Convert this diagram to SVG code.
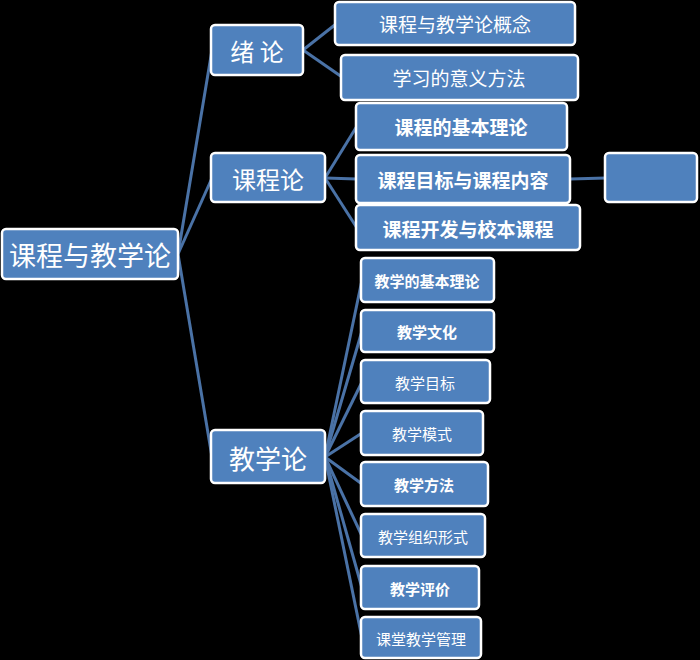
<svg xmlns="http://www.w3.org/2000/svg" width="700" height="660" viewBox="0 0 700 660">
<style>
.n rect{fill:#4F81BD;stroke:#fff;stroke-width:2.5}
.n text{fill:#fff;font-family:"Noto Sans CJK SC","Liberation Sans",sans-serif;text-anchor:middle;dominant-baseline:central}
#c line{stroke:#4A72A6;stroke-width:3}
.b{font-weight:bold}
</style>
<rect width="700" height="660" fill="#000"/>
<g id="c">
<line x1="178" y1="254" x2="212" y2="50"/>
<line x1="178" y1="254" x2="212" y2="178"/>
<line x1="178" y1="254" x2="212" y2="457"/>
<line x1="303" y1="50" x2="336" y2="24"/>
<line x1="303" y1="50" x2="342" y2="77"/>
<line x1="325" y1="178" x2="357" y2="126"/>
<line x1="325" y1="178" x2="357" y2="179"/>
<line x1="325" y1="178" x2="357" y2="228"/>
<line x1="570" y1="179" x2="606" y2="178"/>
<line x1="325" y1="457" x2="362" y2="280"/>
<line x1="325" y1="457" x2="362" y2="331"/>
<line x1="325" y1="457" x2="362" y2="382"/>
<line x1="325" y1="457" x2="362" y2="433"/>
<line x1="325" y1="457" x2="362" y2="484"/>
<line x1="325" y1="457" x2="362" y2="536"/>
<line x1="325" y1="457" x2="362" y2="588"/>
<line x1="325" y1="457" x2="362" y2="638"/>
</g>
<g id="root" class="n"><rect x="2" y="229" width="176" height="50" rx="4"/><text x="90" y="254" font-size="27">课程与教学论</text></g>
<g id="xulun" class="n"><rect x="211" y="25" width="92" height="50" rx="4"/><text x="257" y="50" font-size="24">绪 论</text></g>
<g id="kechenglun" class="n"><rect x="211" y="153" width="114" height="49" rx="4"/><text x="268" y="178" font-size="24">课程论</text></g>
<g id="jiaoxuelun" class="n"><rect x="211" y="430" width="114" height="53" rx="4"/><text x="268" y="457" font-size="26">教学论</text></g>
<g id="n1" class="n"><rect x="335" y="2" width="240" height="43" rx="4"/><text x="455" y="23" font-size="19">课程与教学论概念</text></g>
<g id="n2" class="n"><rect x="341" y="55" width="237" height="45" rx="4"/><text x="459" y="77" font-size="19">学习的意义方法</text></g>
<g id="n3" class="n"><rect x="356" y="103" width="211" height="47" rx="4"/><text x="461" y="126" font-size="19" class="b">课程的基本理论</text></g>
<g id="n4" class="n"><rect x="356" y="155" width="214" height="48" rx="4"/><text x="463" y="179" font-size="19" class="b">课程目标与课程内容</text></g>
<g id="n5" class="n"><rect x="605" y="153" width="92" height="49" rx="4"/></g>
<g id="n6" class="n"><rect x="356" y="205" width="224" height="45" rx="4"/><text x="468" y="228" font-size="19" class="b">课程开发与校本课程</text></g>
<g id="t1" class="n"><rect x="361" y="258" width="133" height="44" rx="4"/><text x="427" y="280" font-size="15" class="b">教学的基本理论</text></g>
<g id="t2" class="n"><rect x="361" y="310" width="133" height="42" rx="4"/><text x="427" y="331" font-size="15" class="b">教学文化</text></g>
<g id="t3" class="n"><rect x="361" y="360" width="129" height="43" rx="4"/><text x="425" y="382" font-size="15">教学目标</text></g>
<g id="t4" class="n"><rect x="361" y="411" width="122" height="44" rx="4"/><text x="422" y="433" font-size="15">教学模式</text></g>
<g id="t5" class="n"><rect x="361" y="462" width="127" height="44" rx="4"/><text x="424" y="484" font-size="15" class="b">教学方法</text></g>
<g id="t6" class="n"><rect x="361" y="514" width="124" height="43" rx="4"/><text x="423" y="536" font-size="15">教学组织形式</text></g>
<g id="t7" class="n"><rect x="361" y="566" width="118" height="43" rx="4"/><text x="420" y="588" font-size="15" class="b">教学评价</text></g>
<g id="t8" class="n"><rect x="361" y="617" width="120" height="41" rx="4"/><text x="421" y="638" font-size="15">课堂教学管理</text></g>
</svg>
